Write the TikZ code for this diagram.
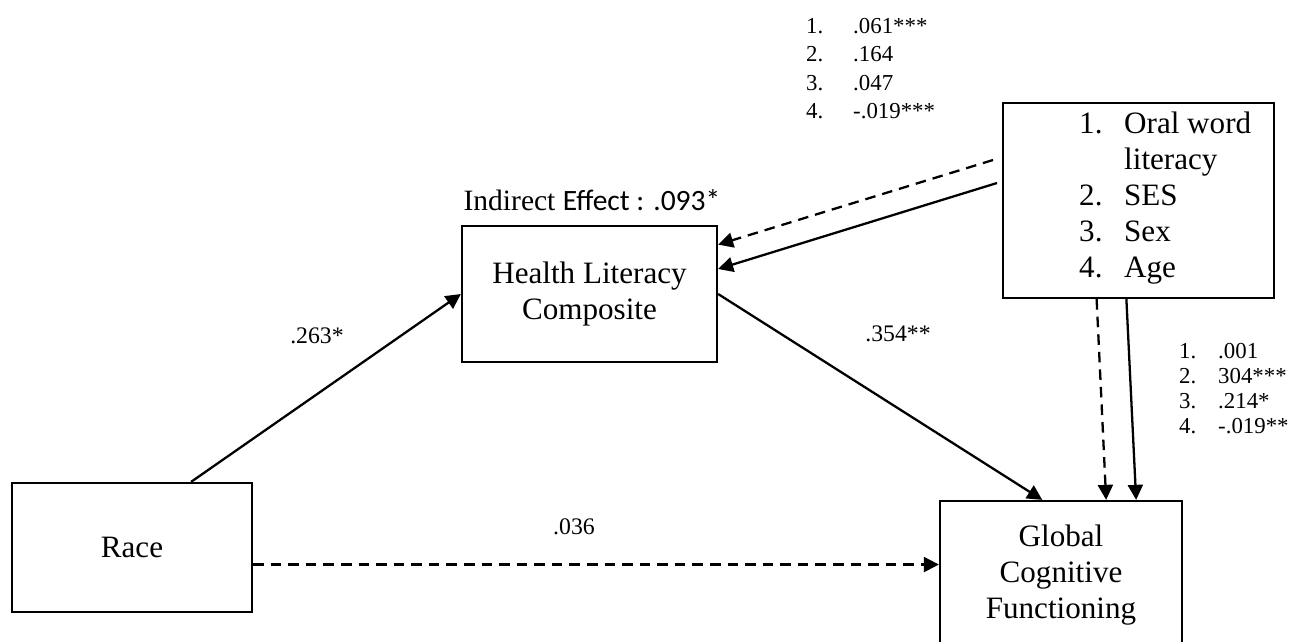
\documentclass[tikz,border=0pt]{standalone}
\usepackage{fontspec}
\setmainfont{Liberation Serif}
\newfontfamily\effectfont{Carlito}
\usetikzlibrary{arrows.meta,positioning}

\tikzset{
  varbox/.style={draw=black, line width=1.3pt, rectangle, align=center, inner sep=0pt, font=\fontsize{17.7}{20.5}\selectfont},
  effect/.style={-{Triangle[length=3mm,width=3mm]}, line width=1.3pt},
  noeffect/.style={effect, dash pattern=on 6pt off 4pt},
  coef/.style={font=\fontsize{13.5}{16}\selectfont},
}

\begin{document}
\begin{tikzpicture}[x=0.2mm, y=-0.2mm]
    \useasboundingbox (0,0) rectangle (1297,641);
    \clip (0,0) rectangle (1297,641);

    % Nodes
    \node [varbox, minimum width=4.8cm, minimum height=2.58cm] (race) at (132,547.5) {Race};
    \node [varbox, minimum width=5.1cm, minimum height=2.72cm] (hlc) at (589.5,294) {Health Literacy\\Composite};
    \node [varbox, minimum width=4.84cm, minimum height=2.96cm] (gcf) at (1061,575) {Global\\Cognitive\\Functioning};
    \node [varbox, minimum width=5.42cm, minimum height=3.9cm] (cov) at (1138.5,200.5) {};
    \node [anchor=base west, font=\fontsize{17.7}{20.5}\selectfont] (covlist) at (1073,133)
        {\begin{tabular}[t]{@{}p{9mm}@{}l@{}}1.&Oral word\\&literacy\\2.&SES\\3.&Sex\\4.&Age\end{tabular}};

    % Coefficients
    \node [font=\fontsize{16.8}{19}\selectfont] (indirect) at (592,200) {Indirect {\effectfont Effect : .093*}};
    \node [anchor=base west, font=\fontsize{13}{16.3}\selectfont] (covhlc) at (800,33)
        {\begin{tabular}[t]{@{}p{9.4mm}@{}l@{}}1.&.061***\\2.&.164\\3.&.047\\4.&-.019***\end{tabular}};
    \node [anchor=base west, font=\fontsize{13}{14.3}\selectfont] (covgcf) at (1173,358)
        {\begin{tabular}[t]{@{}p{7.8mm}@{}l@{}}1.&.001\\2.&304***\\3.&.214*\\4.&-.019**\end{tabular}};
    \node [coef] (racehlc) at (317,336) {.263*};
    \node [coef] (hlcgcf) at (898,334) {.354**};
    \node [coef] (racegcf) at (574,527) {.036};

    % Paths
    \coordinate (covd) at (993,160);
    \coordinate (covs) at (997,183);
    \draw [effect] (race.48) -- (hlc.west);
    \draw [effect] (hlc.east) -- (gcf.104);
    \draw [noeffect] (race.-8) -- (gcf.west |- race.-8);
    \draw [noeffect] (covd) -- (hlc.21);
    \draw [effect] (covs) -- (hlc.11.5);
    \draw [noeffect] (cov.247) -- (gcf.59);
    \draw [effect] (cov.263) -- (gcf.45);
\end{tikzpicture}
\end{document}
